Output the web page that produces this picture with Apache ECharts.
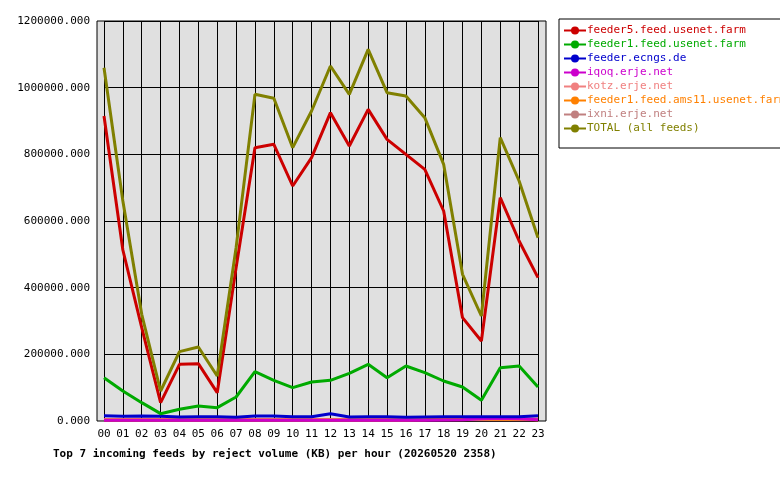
<!DOCTYPE html>
<html><head><meta charset="utf-8">
<script src="https://cdn.jsdelivr.net/npm/echarts@6/dist/echarts.min.js"></script>
<style>body{margin:0;background:#fff}#c{width:780px;height:480px}</style>
</head><body><div id="c"></div>
<script>
var hours = ['00','01','02','03','04','05','06','07','08','09','10','11','12','13','14','15','16','17','18','19','20','21','22','23'];
var names = ['feeder5.feed.usenet.farm','feeder1.feed.usenet.farm','feeder.ecngs.de','iqoq.erje.net','kotz.erje.net','feeder1.feed.ams11.usenet.farm','ixni.erje.net','TOTAL (all feeds)'];
var colors = ['#cc0000','#00aa00','#0000cc','#cc00cc','#f08080','#ff8000','#c08080','#808000'];
var feeder5 = [915000,513000,280000,55000,170000,172000,85000,460000,820000,830000,705000,790000,925000,825000,935000,845000,800000,755000,630000,310000,240000,670000,540000,430000];
var feeder1 = [130000,90000,55000,22000,35000,45000,40000,72000,148000,122000,100000,117000,122000,143000,170000,130000,165000,145000,120000,102000,62000,160000,165000,102000];
var ecngs = [16000,14000,15000,14000,12000,13000,13000,11000,15000,15000,13000,13000,22000,12000,13000,13000,11000,12000,13000,13000,13000,13000,13000,16000];
var iqoq = [2000,2000,2000,2000,2000,2000,2000,2000,2000,2000,2000,2000,2000,2000,2000,2000,2000,2000,3000,4000,7000,8000,7000,4000];
var kotz = [4000,4000,4000,4000,4000,4000,4000,4000,4000,4000,4000,4000,4000,4000,4000,4000,4000,5000,6000,6000,6000,6000,6000,6000];
var ams11 = [3000,3000,3000,3000,3000,3000,3000,3000,3000,3000,3000,3000,3000,3000,3000,3000,3000,4000,8000,8000,6000,5000,5000,4000];
var ixni = [4000,4000,4000,4000,4000,4000,4000,4000,4000,4000,4000,4000,4000,4000,4000,4000,4000,4000,4000,4000,4000,4000,4000,4000];
var total = [1060000,660000,320000,90000,208000,222000,135000,520000,980000,968000,820000,930000,1065000,980000,1115000,985000,975000,910000,770000,440000,315000,850000,720000,550000];
var yTicks = 200000;

var allData = [feeder5, feeder1, ecngs, iqoq, kotz, ams11, ixni, total];
var font = 'DejaVu Sans Mono';
var order = [6, 4, 5, 3, 2, 1, 0, 7];
var series = order.map(function(i) {
  return { name: names[i], type: 'line', data: allData[i], symbol: 'none',
    lineStyle: { color: colors[i], width: 3 }, itemStyle: { color: colors[i] } };
});

var chart = echarts.init(document.getElementById('c'));
chart.setOption({
  animation: false,
  textStyle: { fontFamily: font },
  grid: { left: 104, right: 242, top: 21, bottom: 59 },
  graphic: [{ type: 'rect', z: -10, shape: { x: 97, y: 21, width: 449, height: 400 },
    style: { fill: '#e0e0e0', stroke: '#000', lineWidth: 1 } }],
  title: { text: 'Top 7 incoming feeds by reject volume (KB) per hour (20260520 2358)',
    left: 48, top: 444, textStyle: { fontFamily: font, fontSize: 11, fontWeight: 'bold', color: '#000' } },
  legend: {
    orient: 'vertical', left: 559, top: 19, width: 215, itemGap: 3, itemWidth: 22, itemHeight: 10,
    padding: [6, 6, 14, 4], backgroundColor: '#fff', borderColor: '#000', borderWidth: 1, borderRadius: 0,
    data: names.map(function(n, i) { return { name: n, textStyle: { color: colors[i] } }; }),
    textStyle: { fontFamily: font, fontSize: 11, padding: [0, 0, 0, -4] }
  },
  xAxis: { type: 'category', data: hours, boundaryGap: false,
    axisLine: { show: false }, axisTick: { show: false },
    axisLabel: { color: '#000', fontSize: 11, fontFamily: font, margin: 8 },
    splitLine: { show: true, lineStyle: { color: '#000', width: 1 } } },
  yAxis: { type: 'value', min: 0, max: 1200000, interval: yTicks,
    axisLine: { show: false }, axisTick: { show: false },
    axisLabel: { color: '#000', fontSize: 11, fontFamily: font, margin: 14,
      formatter: function(v) { return v.toFixed(3); } },
    splitLine: { lineStyle: { color: '#000', width: 1 } } },
  series: series
});
</script></body></html>
